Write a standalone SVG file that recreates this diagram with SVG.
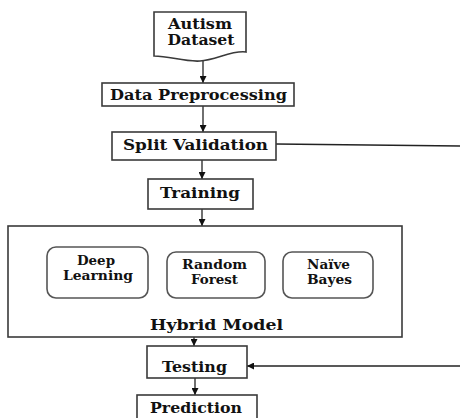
<svg xmlns="http://www.w3.org/2000/svg" width="460" height="418" viewBox="0 0 460 418">
<style>
.box{fill:#fff;stroke:#3a3a3a;stroke-width:1.6}
.rbox{fill:#fff;stroke:#555;stroke-width:1.6}
.t{font-family:"DejaVu Serif","Liberation Serif",serif;font-weight:bold;font-size:14px;fill:#111}
.s{font-family:"DejaVu Serif","Liberation Serif",serif;font-weight:bold;font-size:12px;fill:#111}
.c{stroke:#222;stroke-width:1.3;fill:none}
</style>
<defs>
<marker id="ah" viewBox="0 0 10 10" refX="10" refY="5" markerWidth="7" markerHeight="7" markerUnits="userSpaceOnUse" orient="auto">
<path d="M0,0 L10,5 L0,10 Z" fill="#111"/>
</marker>
</defs>
<g id="connectors">
<line class="c" x1="203" y1="61" x2="203" y2="83" marker-end="url(#ah)"/>
<line class="c" x1="203" y1="106" x2="203" y2="132" marker-end="url(#ah)"/>
<line class="c" x1="202" y1="160" x2="202" y2="179" marker-end="url(#ah)"/>
<line class="c" x1="202" y1="209" x2="202" y2="226" marker-end="url(#ah)"/>
<line class="c" x1="194" y1="337" x2="194" y2="346" marker-end="url(#ah)"/>
<line class="c" x1="195" y1="378" x2="195" y2="395" marker-end="url(#ah)"/>
<line class="c" x1="276" y1="144" x2="460" y2="146" stroke="#555"/>
<line class="c" x1="460" y1="366" x2="247" y2="366" marker-end="url(#ah)"/>
</g>
<g id="autism-dataset">
<path class="box" d="M154,12 H246 V52 C232,50 216,60 200,61 C184,62 170,56 154,56 Z"/>
<text class="t" x="200" y="29" text-anchor="middle" textLength="64" lengthAdjust="spacingAndGlyphs">Autism</text>
<text class="t" x="201" y="45" text-anchor="middle" textLength="67" lengthAdjust="spacingAndGlyphs">Dataset</text>
</g>
<g id="data-preprocessing">
<rect class="box" x="102" y="83" width="192" height="23"/>
<text class="t" x="110" y="100" textLength="177" lengthAdjust="spacingAndGlyphs">Data Preprocessing</text>
</g>
<g id="split-validation">
<rect class="box" x="112" y="132" width="164" height="28"/>
<text class="t" x="123" y="150" textLength="145" lengthAdjust="spacingAndGlyphs">Split Validation</text>
</g>
<g id="training">
<rect class="box" x="148" y="179" width="105" height="30"/>
<text class="t" x="160" y="198" textLength="80" lengthAdjust="spacingAndGlyphs">Training</text>
</g>
<g id="hybrid-model">
<rect class="box" x="8" y="226" width="394" height="111"/>
<text class="t" x="150" y="330" textLength="133" lengthAdjust="spacingAndGlyphs">Hybrid Model</text>
</g>
<g id="deep-learning">
<rect class="rbox" x="47" y="247" width="101" height="51" rx="9"/>
<text class="s" x="77" y="265" textLength="38" lengthAdjust="spacingAndGlyphs">Deep</text>
<text class="s" x="63" y="280" textLength="70" lengthAdjust="spacingAndGlyphs">Learning</text>
</g>
<g id="random-forest">
<rect class="rbox" x="167" y="252" width="98" height="46" rx="9"/>
<text class="s" x="182" y="269" textLength="65" lengthAdjust="spacingAndGlyphs">Random</text>
<text class="s" x="191" y="284" textLength="47" lengthAdjust="spacingAndGlyphs">Forest</text>
</g>
<g id="naive-bayes">
<rect class="rbox" x="283" y="252" width="90" height="46" rx="9"/>
<text class="s" x="307" y="269" textLength="43" lengthAdjust="spacingAndGlyphs">Naïve</text>
<text class="s" x="307" y="284" textLength="45" lengthAdjust="spacingAndGlyphs">Bayes</text>
</g>
<g id="testing">
<rect class="box" x="147" y="346" width="100" height="32"/>
<text class="t" x="162" y="372" textLength="65" lengthAdjust="spacingAndGlyphs">Testing</text>
</g>
<g id="prediction">
<rect class="box" x="137" y="395" width="120" height="30"/>
<text class="t" x="150" y="413" textLength="92" lengthAdjust="spacingAndGlyphs">Prediction</text>
</g>
</svg>
